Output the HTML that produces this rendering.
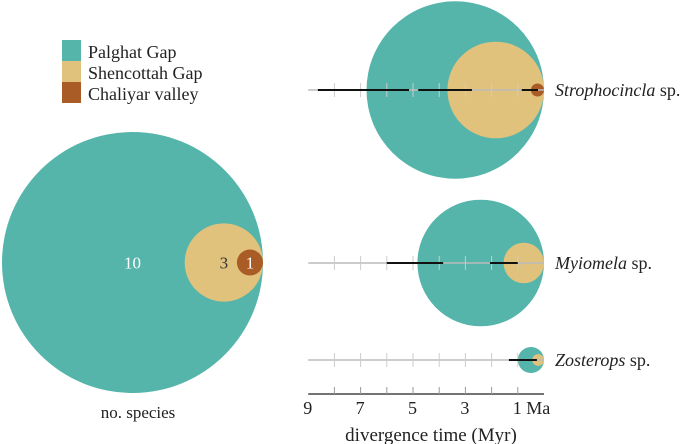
<!DOCTYPE html>
<html><head><meta charset="utf-8"><style>
html,body{margin:0;padding:0;background:#fff}
svg{display:block;font-family:"Liberation Serif",serif}
</style></head><body>
<svg id="chart" width="685" height="444" viewBox="0 0 685 444" xmlns="http://www.w3.org/2000/svg">
<g>
<rect x="62" y="40" width="19" height="21" fill="#55b5ab"/>
<rect x="62" y="61" width="19" height="21" fill="#e1c27c"/>
<rect x="62" y="82" width="19" height="21" fill="#a95c25"/>
<text x="88" y="58" font-size="18" fill="#222">Palghat Gap</text>
<text x="88" y="79" font-size="18" fill="#222">Shencottah Gap</text>
<text x="88" y="100" font-size="18" fill="#222">Chaliyar valley</text>
</g>
<g id="left"></g>
<text x="138" y="418" font-size="17" fill="#222" text-anchor="middle">no. species</text>
<g id="right"></g>
<g id="axis"></g>
<text x="431" y="441" font-size="19" fill="#222" text-anchor="middle">divergence time (Myr)</text>
</svg>
<script>
const regionColors = ["#55b5ab", "#e1c27c", "#a95c25"];
const speciesCounts = [10, 3, 1];
const taxa = ["Strophocincla", "Myiomela", "Zosterops"];
const taxaRowY = [90, 263, 360];
const taxaCircleSizes = [[6.8, 3.7, 0.5], [4.85, 1.55], [1.0, 0.45]];
const errorBarStart = [[8.63, 4.8, 0.85], [6.0, 2.06], [1.34]];
const errorBarEnd = [[5.15, 2.75, 0.23], [3.85, 1.0], [0.27]];
const tickLabels = ["9", "7", "5", "3", "1 Ma"];
const tickLabelValues = [9, 7, 5, 3, 1];

const NS = "http://www.w3.org/2000/svg";
const x0 = 544, unit = 26.2, rUnit = 13.05;
const xScale = v => x0 - v * unit;
const rScale = n => n * rUnit;
function mk(tag, attrs, parent) {
  const e = document.createElementNS(NS, tag);
  for (const k in attrs) e.setAttribute(k, attrs[k]);
  parent.appendChild(e);
  return e;
}
const left = document.getElementById('left');
const leftRight = 263, leftCy = 262.5;
const lblColors = ["#fff", "#333", "#fff"];
speciesCounts.forEach((n, i) => {
  const r = rScale(n);
  const c = mk('circle', {cx: leftRight - r, cy: leftCy, r: r, fill: regionColors[i]}, left);
  
  
});
speciesCounts.forEach((n, i) => {
  const r = rScale(n);
  const t = mk('text', {x: leftRight - r, y: leftCy + 6, 'font-size': 17, fill: lblColors[i], 'text-anchor': 'middle'}, left);
  t.textContent = String(n);
  
  
});
const right = document.getElementById('right');
taxa.forEach((name, ti) => {
  const y = taxaRowY[ti];
  taxaCircleSizes[ti].forEach((s, i) => {
    const r = rScale(s);
    const c = mk('circle', {cx: x0 - r, cy: y, r: r, fill: regionColors[i]}, right);
    
    
  });
  const base = mk('line', {x1: xScale(9), x2: xScale(0), y1: y, y2: y, stroke: '#bbb', 'stroke-width': 1.5}, right);
  
  
  for (let v = 1; v <= 8; v++) {
    const tk = mk('line', {x1: xScale(v), x2: xScale(v), y1: y - 7, y2: y + 7, stroke: '#ccc', 'stroke-width': 1}, right);
    
    
  }
  errorBarStart[ti].forEach((s, i) => {
    const b = mk('line', {x1: xScale(s), x2: xScale(errorBarEnd[ti][i]), y1: y, y2: y, stroke: '#111', 'stroke-width': 2}, right);
    
    
  });
  const t = mk('text', {x: 555, y: y + 6, 'font-size': 18, fill: '#222'}, right);
  t.innerHTML = '<tspan font-style="italic">' + name + '</tspan> sp.';
  
  
});
const axis = document.getElementById('axis');
const al = mk('line', {x1: xScale(9), x2: xScale(0), y1: 394, y2: 394, stroke: '#222', 'stroke-width': 1.3}, axis);


for (let v = 1; v <= 8; v++) {
  const tk = mk('line', {x1: xScale(v), x2: xScale(v), y1: 387, y2: 394, stroke: '#999', 'stroke-width': 1}, axis);
  
  
}
tickLabels.forEach((lab, i) => {
  const v = tickLabelValues[i];
  const t = mk('text', {x: xScale(v) - 5, y: 414, 'font-size': 18, fill: '#222'}, axis);
  t.textContent = lab;
  
  
});
</script>
</body></html>
